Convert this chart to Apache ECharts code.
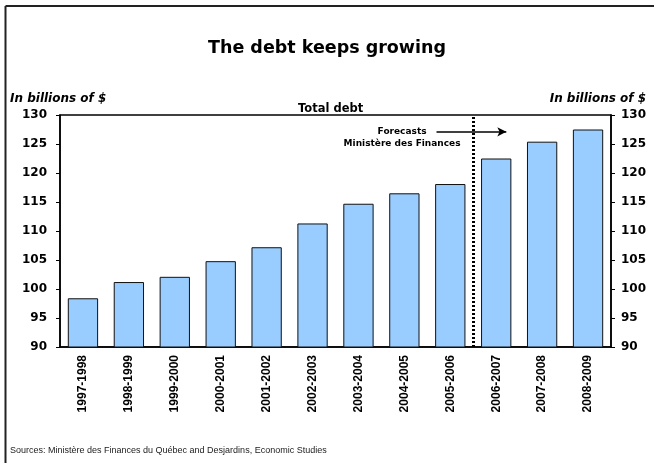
<!DOCTYPE html>
<html>
<head>
<meta charset="utf-8">
<script src="https://cdn.jsdelivr.net/npm/echarts@6/dist/echarts.min.js"></script>
<style>html,body{margin:0;padding:0;background:#fff}#c{width:654px;height:463px}</style>
</head>
<body>
<div id="c"></div>
<script>
const categories = ['1997-1998','1998-1999','1999-2000','2000-2001','2001-2002','2002-2003','2003-2004','2004-2005','2005-2006','2006-2007','2007-2008','2008-2009'];
const debtValues = [98.4, 101.2, 102.1, 104.8, 107.2, 111.3, 114.7, 116.5, 118.1, 122.5, 125.4, 127.5];
const yTicks = {min: 90, max: 130, interval: 5};
const forecastStart = 9;          // boundary index between actual and forecast years
const arrowFrom = [8.2, 127.1];
const arrowTo = [9.72, 127.1];
const noteAnchor1 = [7.45, 127.1];
const noteAnchor2 = [7.45, 125.0];

const FONT = 'Liberation Sans, Arial, sans-serif';
const WIDE = 'DejaVu Sans, sans-serif';
const chart = echarts.init(document.getElementById('c'), null, {renderer: 'canvas'});
const yAxisBase = {
  type: 'value', min: yTicks.min, max: yTicks.max, interval: yTicks.interval,
  splitLine: {show: false},
  axisLine: {show: true, lineStyle: {color: '#000', width: 1.5}},
  axisTick: {show: true, length: 4, lineStyle: {color: '#000'}},
  axisLabel: {color: '#000', fontWeight: 'bold', fontSize: 12, fontFamily: WIDE}
};
chart.setOption({
  animation: false,
  backgroundColor: '#fff',
  title: [
    {text: 'The debt keeps growing', left: 'center', top: 34,
     textStyle: {fontSize: 17.5, fontWeight: 'bold', color: '#000', fontFamily: WIDE}},
    {text: 'In billions of $', left: 5, top: 88,
     textStyle: {fontSize: 12, fontWeight: 'bold', fontStyle: 'italic', color: '#000', fontFamily: WIDE}},
    {text: 'In billions of $', right: 3, top: 88,
     textStyle: {fontSize: 12, fontWeight: 'bold', fontStyle: 'italic', color: '#000', fontFamily: WIDE}},
    {text: 'Total debt', left: 293, top: 98,
     textStyle: {fontSize: 11.5, fontWeight: 'bold', color: '#000', fontFamily: WIDE}},
    {text: 'Sources: Ministère des Finances du Québec and Desjardins, Economic Studies', left: 5, top: 441,
     textStyle: {fontSize: 9, fontWeight: 'normal', color: '#222', fontFamily: FONT}}
  ],
  graphic: [
    {type: 'line', shape: {x1: 5.5, y1: 6, x2: 654, y2: 6}, style: {stroke: '#222', lineWidth: 2}},
    {type: 'line', shape: {x1: 5.5, y1: 6, x2: 5.5, y2: 463}, style: {stroke: '#222', lineWidth: 2}}
  ],
  grid: {left: 60, right: 43, top: 115, bottom: 116, show: true, borderColor: '#000', borderWidth: 1.5, backgroundColor: 'transparent'},
  xAxis: [
    {type: 'category', data: categories,
     axisLine: {show: true, lineStyle: {color: '#000', width: 1.5}},
     axisTick: {show: false},
     axisLabel: {rotate: 90, color: '#000', fontWeight: 'bold', fontSize: 12, fontFamily: FONT, margin: 8, interval: 0}},
    {type: 'value', min: 0, max: categories.length, show: false}
  ],
  yAxis: [
    Object.assign({}, yAxisBase, {position: 'left', axisLabel: Object.assign({}, yAxisBase.axisLabel, {margin: 13})}),
    Object.assign({}, yAxisBase, {position: 'right', axisLabel: Object.assign({}, yAxisBase.axisLabel, {margin: 10})})
  ],
  series: [
    {type: 'bar', data: debtValues, barWidth: '66%', xAxisIndex: 0, yAxisIndex: 0,
     itemStyle: {color: '#99CCFF', borderColor: '#111', borderWidth: 1}},
    {type: 'line', xAxisIndex: 1, yAxisIndex: 0, data: [], silent: true,
     markLine: {
       silent: true, animation: false, label: {show: false},
       data: [
         [{coord: [forecastStart, yTicks.min], symbol: 'none'}, {coord: [forecastStart, yTicks.max], symbol: 'none',
           lineStyle: {type: [2, 2], width: 3, color: '#000'}}],
         [{coord: arrowFrom, symbol: 'none'}, {coord: arrowTo, symbol: 'arrow', symbolSize: [7, 9],
           lineStyle: {type: 'solid', width: 1.5, color: '#000'}}]
       ],
       lineStyle: {color: '#000'}
     },
     markPoint: {
       silent: true, symbolSize: 0,
       data: [
         {coord: noteAnchor1, value: 'Forecasts'},
         {coord: noteAnchor2, value: 'Ministère des Finances'}
       ],
       label: {show: true, position: 'inside', formatter: '{c}', color: '#000',
               fontWeight: 'bold', fontSize: 9, fontFamily: WIDE}
     }}
  ]
});
</script>
</body>
</html>
